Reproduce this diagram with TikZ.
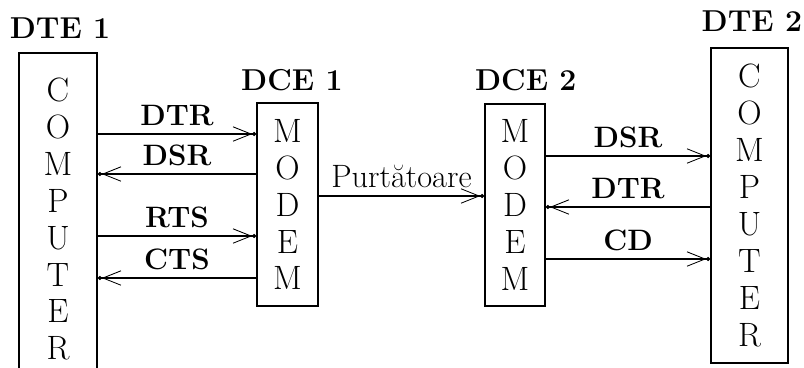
\documentclass[tikz,border=0pt]{standalone}
\usepackage{fontspec}
\usepackage{tikz}
\usetikzlibrary{arrows.meta, positioning}

\begin{document}
\begin{tikzpicture}[
    x=0.025cm, y=-0.025cm,
    node distance=0.3cm,
    unit/.style={draw, line width=1.2pt, inner sep=0pt, align=center,
                 font=\fontsize{24}{26.3}\selectfont},
    title/.style={inner sep=0pt, font=\fontsize{21.5}{24}\selectfont\bfseries},
    sig/.style={-{Straight Barb[length=0.45cm,width=0.36cm,line width=0.6pt] Circle[length=0.1cm]}, line width=0.8pt},
    lbl/.style={above, inner sep=0.2cm, font=\fontsize{21}{24}\selectfont\bfseries}
]
\clip (0,0) rectangle (804,368);

% Boxes
\node[unit, minimum width=1.95cm, minimum height=8.3cm] (dte1) at (58,219)
    {C\\O\\M\\P\\U\\T\\E\\R};
\node[unit, minimum width=1.525cm, minimum height=5.075cm] (dce1) at (287.5,204.5)
    {M\\O\\D\\E\\M};
\node[unit, minimum width=1.5cm, minimum height=5.05cm] (dce2) at (515,205)
    {M\\O\\D\\E\\M};
\node[unit, minimum width=1.925cm, minimum height=7.875cm] (dte2) at (749.5,205.5)
    {C\\O\\M\\P\\U\\T\\E\\R};

% Titles
\node[title, above=0.325cm of dte1, xshift=0.05cm] (dte1t) {DTE 1};
\node[title, above=0.28cm of dce1, xshift=0.11cm] (dce1t) {DCE 1};
\node[title, above=0.3cm of dce2, xshift=0.27cm] (dce2t) {DCE 2};
\node[title, above=0.375cm of dte2, xshift=0.06cm] (dte2t) {DTE 2};

% Signal rows
\coordinate (r1) at (0,134);
\coordinate (r2) at (0,174);
\coordinate (r3) at (0,236);
\coordinate (r4) at (0,278);
\coordinate (r5) at (0,196);
\coordinate (r6) at (0,156);
\coordinate (r7) at (0,207);
\coordinate (r8) at (0,259);

% DTE 1 <-> DCE 1
\draw[sig] (dte1.east |- r1) -- node[lbl] {DTR} (dce1.west |- r1);
\draw[sig] (dce1.west |- r2) -- node[lbl] {DSR} (dte1.east |- r2);
\draw[sig] (dte1.east |- r3) -- node[lbl] {RTS} (dce1.west |- r3);
\draw[sig] (dce1.west |- r4) -- node[lbl] {CTS} (dte1.east |- r4);

% DCE 1 -> DCE 2
\draw[sig] (dce1.east |- r5) -- node[above, inner sep=0.2cm, font=\fontsize{23}{26}\selectfont] {Purtătoare} (dce2.west |- r5);

% DCE 2 <-> DTE 2
\draw[sig] (dce2.east |- r6) -- node[lbl] {DSR} (dte2.west |- r6);
\draw[sig] (dte2.west |- r7) -- node[lbl] {DTR} (dce2.east |- r7);
\draw[sig] (dce2.east |- r8) -- node[lbl] {CD} (dte2.west |- r8);

\end{tikzpicture}
\end{document}
